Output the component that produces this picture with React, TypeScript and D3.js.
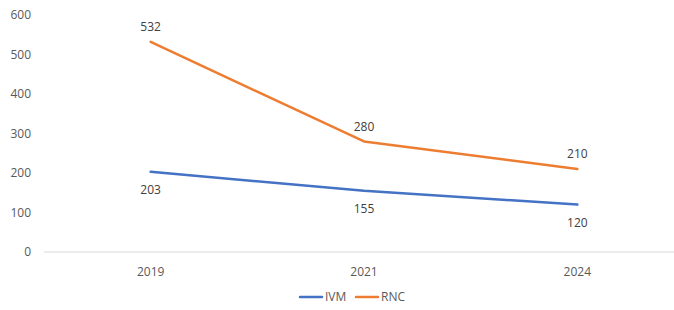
import * as d3 from 'd3';
import { ReactElement } from 'react';

// ─ Data ─────────────────────────────────────────────────────────────────────
const years = ['2019', '2021', '2024'];
const ivmValues = [203, 155, 120];
const rncValues = [532, 280, 210];
const yTicks = [0, 100, 200, 300, 400, 500, 600];

const series = [
  { name: 'IVM', values: ivmValues, color: '#4472C4', labelBelow: true },
  { name: 'RNC', values: rncValues, color: '#ED7D31', labelBelow: false }
];

const WIDTH = 674;
const HEIGHT = 310;
const FONT = '"Open Sans", sans-serif';
const TEXT_COLOR = '#595959';

const App = (): ReactElement => {
  const xScale = d3.scaleBand().domain(years).range([44, 684]).padding(0);
  const yScale = d3.scaleLinear().domain([0, 600]).range([252, 15]);
  const xc = (y: string) => (xScale(y) || 0) + xScale.bandwidth() / 2;

  const line = d3.line<number>()
    .x((_, i) => xc(years[i]))
    .y(d => yScale(d));

  return (
    <svg width={WIDTH} height={HEIGHT} style={{ position: 'absolute', left: 0, top: 0, background: '#fff' }}
      fontFamily={FONT}>
      {/* axis line */}
      <line x1={44} x2={WIDTH} y1={yScale(0)} y2={yScale(0)} stroke="#D9D9D9" strokeWidth={1} />

      {/* y tick labels */}
      {yTicks.map(t => (
        <text key={t} x={31} y={yScale(t)} dy="0.35em" textAnchor="end" fontSize={12} fill={TEXT_COLOR}>{t}</text>
      ))}

      {/* x tick labels */}
      {years.map(y => (
        <text key={y} x={xc(y)} y={272} dy="0.35em" textAnchor="middle" fontSize={12} fill={TEXT_COLOR}>{y}</text>
      ))}

      {/* lines */}
      {series.map(s => (
        <path key={s.name} d={line(s.values) || ''} fill="none" stroke={s.color} strokeWidth={2.5} strokeLinecap="round" strokeLinejoin="round" />
      ))}

      {/* data labels */}
      {series.map(s => s.values.map((v, i) => (
        <text key={`${s.name}-${i}`} x={xc(years[i])} y={yScale(v) + (s.labelBelow ? 18 : -15)} dy="0.35em"
          textAnchor="middle" fontSize={12} fill="#404040">{v}</text>
      )))}

      {/* legend */}
      {series.map((s, i) => {
        const x0 = 300 + i * 56;
        return (
          <g key={s.name}>
            <line x1={x0} x2={x0 + 22} y1={297} y2={297} stroke={s.color} strokeWidth={2.5} strokeLinecap="round" />
            <text x={x0 + 25} y={297} dy="0.35em" fontSize={12} fill={TEXT_COLOR}>{s.name}</text>
          </g>
        );
      })}
    </svg>
  );
};

export default App;
